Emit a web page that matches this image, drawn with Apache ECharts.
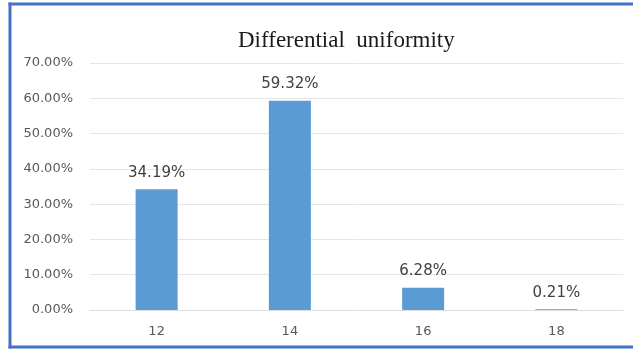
<!DOCTYPE html>
<html>
<head>
<meta charset="utf-8">
<script src="https://cdn.jsdelivr.net/npm/echarts@6/dist/echarts.min.js"></script>
<style>
html, body { margin: 0; padding: 0; background: #fff; overflow: hidden; }
#main { width: 633px; height: 349px; }
</style>
</head>
<body>
<div id="main"></div>
<script>
var categories = ['12', '14', '16', '18'];
var values = [34.19, 59.32, 6.28, 0.21];
var titleText = 'Differential  uniformity';

var frameStyle = { stroke: '#4472C4', lineWidth: 3 };
var chart = echarts.init(document.getElementById('main'));
var option = {
	animation: false,
	title: {
		text: titleText,
		left: 233,
		top: 24,
		textStyle: { fontFamily: 'Liberation Serif', fontSize: 23, fontWeight: 'normal', color: '#1a1a1a' }
	},
	// chart frame: top, left, bottom edges only (right edge is cut off)
	graphic: [
		{ type: 'line', silent: true, shape: { x1: 8.5, y1: 4, x2: 633, y2: 4 }, style: frameStyle },
		{ type: 'line', silent: true, shape: { x1: 10, y1: 2.5, x2: 10, y2: 348.5 }, style: frameStyle },
		{ type: 'line', silent: true, shape: { x1: 8.5, y1: 347, x2: 633, y2: 347 }, style: frameStyle }
	],
	grid: { left: 90, right: 10, top: 63, bottom: 39 },
	xAxis: {
		type: 'category',
		data: categories,
		axisTick: { show: false },
		axisLine: { lineStyle: { color: '#dedede' } },
		axisLabel: { color: '#595959', fontSize: 13, fontFamily: 'DejaVu Sans', margin: 15 }
	},
	yAxis: {
		type: 'value',
		min: 0,
		max: 70,
		interval: 10,
		axisLabel: {
			color: '#595959', fontSize: 13, fontFamily: 'DejaVu Sans', margin: 17,
			formatter: function (v) { return v.toFixed(2) + '%'; }
		},
		splitLine: { lineStyle: { color: '#e6e6e6' } }
	},
	series: [{
		type: 'bar',
		data: values,
		barWidth: 42,
		itemStyle: { color: '#5B9BD5' },
		label: {
			show: true,
			position: 'top',
			distance: 9,
			color: '#404040',
			fontSize: 15,
			fontFamily: 'DejaVu Sans',
			formatter: function (p) { return p.value.toFixed(2) + '%'; }
		}
	}]
};
chart.setOption(option);
</script>
</body>
</html>
